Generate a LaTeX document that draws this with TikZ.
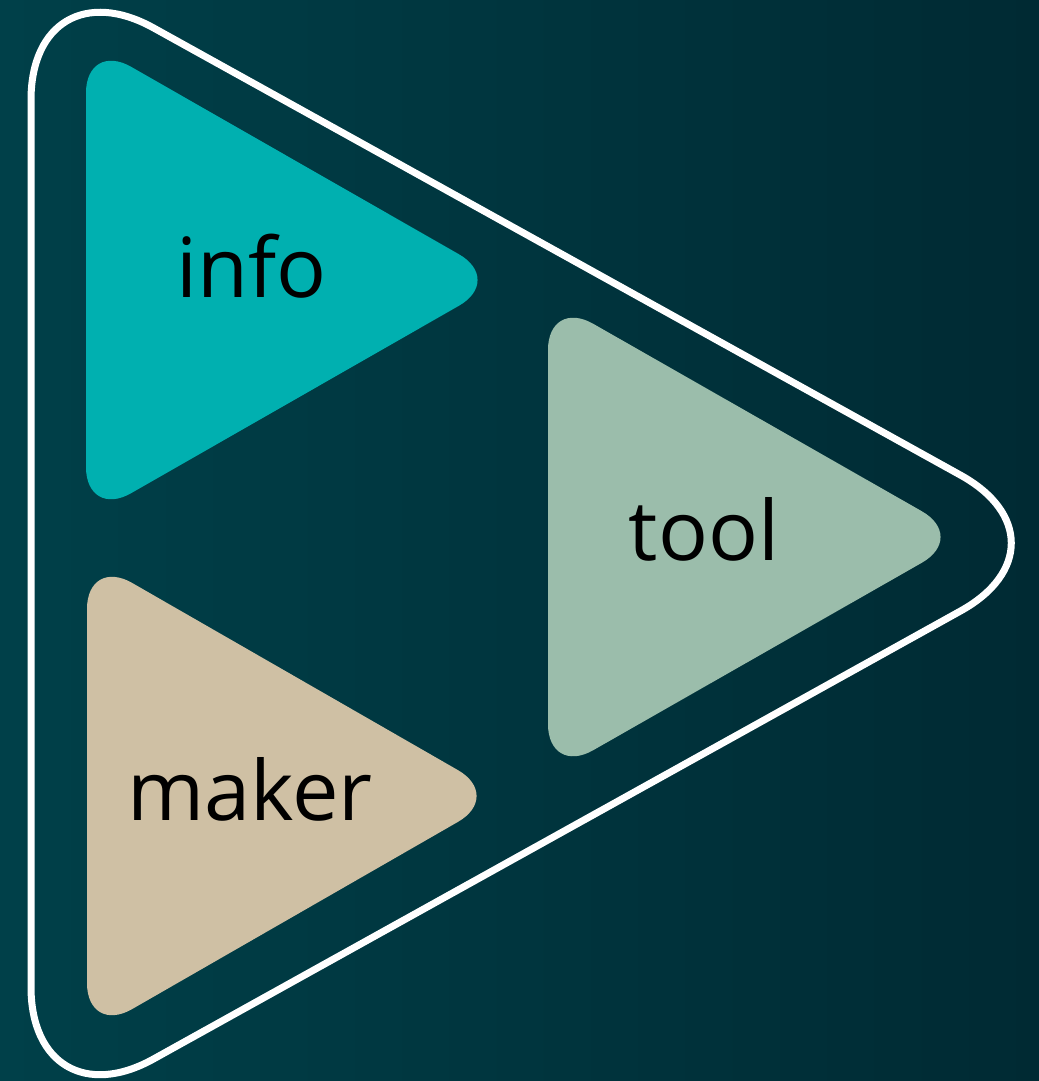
\documentclass[tikz,border=0pt]{standalone}
\usepackage{fontspec}
\setmainfont{Open Sans}
\definecolor{bgL}{RGB}{0,64,73}
\definecolor{bgR}{RGB}{0,42,51}
\definecolor{infoc}{RGB}{0,176,176}
\definecolor{toolc}{RGB}{155,189,171}
\definecolor{makerc}{RGB}{207,192,164}
\tikzset{
  frameline/.style={draw=white, line width=0.7mm, rounded corners=14mm},
  petal/.style={rounded corners=5.2mm},
  word/.style={text=black, font=\fontsize{23.6}{28}\selectfont, inner sep=0pt, anchor=base}
}
\begin{document}
\begin{tikzpicture}[x=0.1mm, y=-0.1mm]
  % backdrop with a soft left-to-right gradient
  \shade[left color=bgL, right color=bgR] (0,0) rectangle (1039,1081);
  \useasboundingbox (0,0) rectangle (1039,1081);
  % outer white triangle frame
  \draw[frameline] (31,-40) -- (1083,543) -- (31,1127) -- cycle;
  % the three inner triangles
  \fill[petal, infoc]  (86,41)  -- (504,280) -- (86,519)  -- cycle;
  \fill[petal, toolc]  (548,298) -- (967,537) -- (548,776) -- cycle;
  \fill[petal, makerc] (87,557) -- (503,796) -- (87,1035) -- cycle;
  % labels
  \node[word] (info)  at (252,297) {info};
  \node[word] (tool)  at (704,560) {tool};
  \node[word] (maker) at (250,820) {maker};
\end{tikzpicture}
\end{document}
